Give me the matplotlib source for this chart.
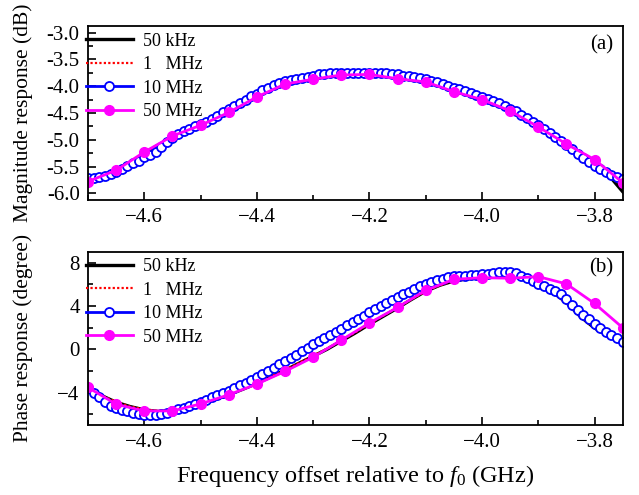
import numpy as np
import matplotlib
matplotlib.use("Agg")
import matplotlib.pyplot as plt
from matplotlib.ticker import MultipleLocator, FormatStrFormatter

plt.rcParams["font.family"] = ["Liberation Serif", "DejaVu Serif"]
plt.rcParams["mathtext.fontset"] = "custom"
plt.rcParams["mathtext.rm"] = "Liberation Serif"
plt.rcParams["mathtext.it"] = "Liberation Serif:italic"

# frequency grids (GHz offset relative to f0)
freq_fine = np.round(np.arange(-4.70, -3.745, 0.01), 3)      # 10 MHz markers
freq_line = np.linspace(-4.70, -3.75, 39)                     # 50 kHz / 1 MHz traces
freq_coarse = np.round(np.arange(-4.70, -3.745, 0.05), 3)     # 50 MHz markers

# ---- magnitude response (dB) ----
mag_50k = [-5.76, -5.68, -5.58, -5.44, -5.26, -5.10, -4.95, -4.82, -4.73, -4.61,
           -4.48, -4.34, -4.20, -4.06, -3.95, -3.88, -3.83, -3.79, -3.77, -3.76,
           -3.76, -3.77, -3.79, -3.83, -3.88, -3.95, -4.04, -4.13, -4.23, -4.34,
           -4.47, -4.61, -4.77, -4.95, -5.13, -5.31, -5.48, -5.66, -5.97]
mag_1M = [-5.77, -5.67, -5.57, -5.43, -5.25, -5.09, -4.94, -4.82, -4.72, -4.60,
          -4.47, -4.33, -4.19, -4.05, -3.95, -3.88, -3.83, -3.79, -3.77, -3.76,
          -3.76, -3.77, -3.80, -3.84, -3.89, -3.96, -4.05, -4.14, -4.24, -4.35,
          -4.48, -4.62, -4.78, -4.95, -5.12, -5.28, -5.44, -5.60, -5.85]
mag_10M = [-5.72, -5.72, -5.70, -5.67, -5.64, -5.60, -5.55, -5.49, -5.44, -5.39,
           -5.33, -5.28, -5.22, -5.14, -5.05, -4.97, -4.90, -4.84, -4.79, -4.75,
           -4.71, -4.66, -4.61, -4.55, -4.49, -4.43, -4.37, -4.31, -4.25, -4.19,
           -4.14, -4.08, -4.03, -3.98, -3.94, -3.91, -3.88, -3.86, -3.84, -3.82,
           -3.80, -3.78, -3.77, -3.76, -3.75, -3.75, -3.75, -3.75, -3.75, -3.75,
           -3.75, -3.75, -3.75, -3.76, -3.77, -3.78, -3.80, -3.81, -3.83, -3.85,
           -3.87, -3.90, -3.93, -3.96, -3.99, -4.03, -4.06, -4.09, -4.13, -4.16,
           -4.20, -4.24, -4.28, -4.32, -4.37, -4.42, -4.47, -4.53, -4.59, -4.66,
           -4.73, -4.80, -4.87, -4.94, -5.02, -5.10, -5.18, -5.26, -5.34, -5.42,
           -5.49, -5.55, -5.61, -5.66, -5.70, -5.74]
mag_50M = [-5.78, -5.57, -5.23, -4.93, -4.73, -4.49, -4.20, -3.96, -3.87, -3.79,
           -3.78, -3.86, -3.92, -4.10, -4.25, -4.46, -4.76, -5.08, -5.37, -5.80]

# ---- phase response (degree) ----
ph_50k = [-3.5, -4.3, -4.9, -5.3, -5.6, -5.75, -5.7, -5.4, -5.05, -4.65,
          -4.2, -3.7, -3.15, -2.55, -1.95, -1.3, -0.65, 0.0, 0.75, 1.5,
          2.3, 3.05, 3.8, 4.6, 5.35, 5.9, 6.3, 6.5, 6.6, 6.75,
          6.9, 6.7, 6.1, 5.3, 4.3, 3.0, 1.95, 1.2, 0.6]
ph_1M = [-3.55, -4.3, -4.85, -5.3, -5.55, -5.7, -5.65, -5.4, -5.0, -4.6,
         -4.15, -3.65, -3.1, -2.5, -1.9, -1.25, -0.6, 0.05, 0.8, 1.55,
         2.35, 3.1, 3.85, 4.6, 5.35, 5.9, 6.3, 6.5, 6.62, 6.78,
         6.92, 6.72, 6.15, 5.25, 4.2, 3.0, 2.0, 1.25, 0.7]
ph_10M = [-3.6, -4.0, -4.4, -4.85, -5.2, -5.45, -5.62, -5.75, -5.85, -5.95,
          -6.05, -6.1, -6.08, -6.0, -5.85, -5.72, -5.55, -5.4, -5.25, -5.05,
          -4.9, -4.7, -4.45, -4.2, -4.05, -3.85, -3.6, -3.35, -3.1, -2.85,
          -2.6, -2.3, -2.0, -1.7, -1.4, -1.1, -0.8, -0.5, -0.15, 0.15,
          0.45, 0.75, 1.05, 1.3, 1.6, 1.9, 2.2, 2.5, 2.8, 3.1,
          3.4, 3.7, 3.98, 4.25, 4.55, 4.8, 5.05, 5.3, 5.55, 5.8,
          6.0, 6.18, 6.35, 6.5, 6.65, 6.73, 6.76, 6.8, 6.83, 6.86,
          6.9, 6.95, 7.02, 7.1, 7.16, 7.12, 7.0, 6.8, 6.55, 6.3,
          6.05, 5.85, 5.6, 5.35, 5.05, 4.6, 4.1, 3.6, 3.15, 2.75,
          2.35, 1.95, 1.6, 1.3, 1.0, 0.65]
ph_50M = [-3.53, -5.08, -5.70, -5.70, -5.05, -4.21, -3.22, -2.05, -0.74, 0.84,
          2.42, 3.86, 5.43, 6.45, 6.60, 6.55, 6.70, 6.03, 4.22, 1.98]

labels = ["50 kHz", "1   MHz", "10 MHz", "50 MHz"]

fig = plt.figure(figsize=(6.39, 4.95), dpi=100)
ax1 = fig.add_axes([0.1377, 0.596, 0.8368, 0.3515])
ax2 = fig.add_axes([0.1377, 0.1414, 0.8368, 0.3501])


def draw_panel(ax, y50k, y1M, y10M, y50M, tag, tag_y):
    ax.plot(freq_line, y50k, color="black", lw=2.4, label=labels[0])
    ax.plot(freq_line, y1M, color="red", lw=1.6, ls=(0, (1, 1)), label=labels[1])
    ax.plot(freq_fine, y10M, color="#0000ff", lw=2.0, marker="o", ms=6.5,
            mfc="white", mec="#0000ff", mew=1.3, label=labels[2])
    ax.plot(freq_coarse, y50M, color="#ff00ff", lw=2.0, marker="o", ms=7,
            mfc="#ff00ff", mec="#ff00ff", label=labels[3])
    ax.set_xlim(-4.70, -3.75)
    ax.xaxis.set_major_locator(MultipleLocator(0.2))
    ax.xaxis.set_minor_locator(MultipleLocator(0.1))
    ax.tick_params(which="both", direction="in", top=False, right=False,
                   labelsize=15, width=1.2)
    ax.tick_params(which="major", length=6, pad=6)
    ax.tick_params(which="minor", length=3.5)
    for sp in ax.spines.values():
        sp.set_linewidth(1.3)
    ax.legend(loc="upper left", bbox_to_anchor=(-0.004, 0.962), frameon=False,
              fontsize=13, handlelength=2.6, handletextpad=0.55,
              labelspacing=0.36, borderaxespad=0.0, borderpad=0.0)
    ax.text(0.982, tag_y, tag, transform=ax.transAxes, ha="right", va="center",
            fontsize=15)
    ax.yaxis.set_label_coords(-0.103, 0.52)


draw_panel(ax1, mag_50k, mag_1M, mag_10M, mag_50M, "(a)", 0.89)
ax1.set_ylim(-6.125, -2.875)
ax1.yaxis.set_major_locator(MultipleLocator(0.5))
ax1.yaxis.set_minor_locator(MultipleLocator(0.25))
ax1.yaxis.set_major_formatter(FormatStrFormatter("%.1f"))
ax1.set_ylabel("Magnitude response (dB)", fontsize=15.5)

draw_panel(ax2, ph_50k, ph_1M, ph_10M, ph_50M, "(b)", 0.905)
ax2.set_ylim(-7, 9)
ax2.yaxis.set_major_locator(MultipleLocator(4))
ax2.yaxis.set_minor_locator(MultipleLocator(2))
ax2.yaxis.set_label_coords(-0.103, 0.505)
ax2.set_ylabel("Phase response (degree)", fontsize=15.5)
ax2.set_xlabel("Frequency offset relative to $\\mathit{f}_{0}$ (GHz)",
               fontsize=17.5, labelpad=8)

fig.savefig("out.png", dpi=100)
